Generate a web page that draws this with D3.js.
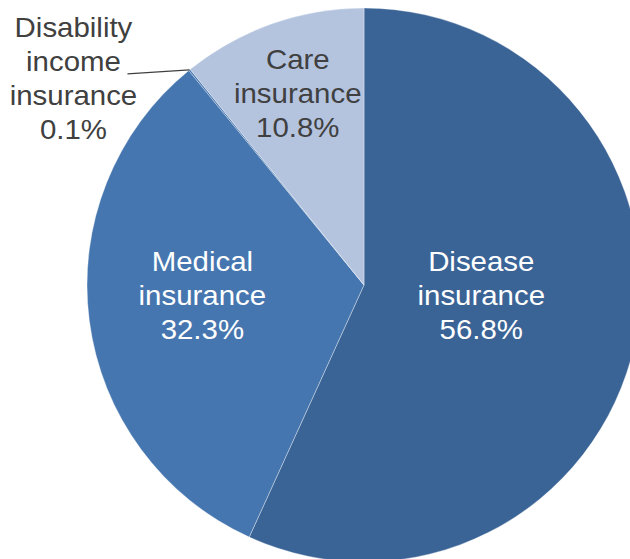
<!DOCTYPE html>
<html>
<head>
<meta charset="utf-8">
<script src="https://cdn.jsdelivr.net/npm/d3@7"></script>
<style>
  html, body { margin: 0; padding: 0; background: #ffffff; }
  svg { display: block; }
  text { font-family: "Liberation Sans", Arial, sans-serif; }
</style>
</head>
<body>
<svg id="chart" width="630" height="559"></svg>
<script>
// Share of insurance types, clockwise from 12 o'clock
const categories = ["Disease insurance", "Medical insurance", "Disability income insurance", "Care insurance"];
const labelLines = [
  ["Disease", "insurance"],
  ["Medical", "insurance"],
  ["Disability", "income", "insurance"],
  ["Care", "insurance"]
];
const shares = [56.8, 32.3, 0.1, 10.8];
const colors = ["#3b6496", "#4676af", "#4676af", "#b4c4df"];
const textColors = ["#ffffff", "#ffffff", "#404040", "#404040"];

const svg = d3.select("#chart");
const cx = 364, cy = 285, radius = 277;
const fontSize = 27, lineStep = 34, xStretch = 1.09;

const pie = d3.pie().sort(null).value(d => d.value)
  .startAngle(0).endAngle(2 * Math.PI);
const arcs = pie(categories.map((c, i) => ({ name: c, value: shares[i], i })));

const arc = d3.arc().innerRadius(0).outerRadius(radius);

const g = svg.append("g").attr("transform", `translate(${cx},${cy})`);

g.selectAll("path.slice")
  .data(arcs)
  .join("path")
  .attr("class", "slice")
  .attr("d", arc)
  .attr("fill", d => colors[d.data.i])
  .attr("stroke", "rgba(255,255,255,0.35)")
  .attr("stroke-width", 1);

// inside labels: radius along the slice bisector, plus a small vertical nudge
const insideRadius = [120, 163, null, 199];
const insideNudge = [-15, -10, 0, -4];

function drawLabel(x, y, lines, color) {
  const n = lines.length;
  const t = g.append("g").attr("transform", `translate(${x},${y}) scale(${xStretch},1)`);
  lines.forEach((s, k) => {
    t.append("text")
      .attr("x", 0)
      .attr("y", (k - (n - 1) / 2) * lineStep)
      .attr("dy", "0.35em")
      .attr("text-anchor", "middle")
      .attr("font-size", fontSize)
      .attr("fill", color)
      .text(s);
  });
}

arcs.forEach(d => {
  const i = d.data.i;
  const lines = labelLines[i].concat([d3.format(".1f")(d.data.value) + "%"]);
  if (insideRadius[i] !== null) {
    const c = d3.arc().innerRadius(insideRadius[i]).outerRadius(insideRadius[i]).centroid(d);
    drawLabel(c[0], c[1] + insideNudge[i], lines, textColors[i]);
  } else {
    // small slice: leader line out to a label on the left
    const mid = (d.startAngle + d.endAngle) / 2;
    const px = radius * Math.sin(mid), py = -radius * Math.cos(mid);
    const lx = px - 62, ly = py + 4;
    g.append("line")
      .attr("x1", px).attr("y1", py)
      .attr("x2", lx).attr("y2", ly)
      .attr("stroke", "#404040")
      .attr("stroke-width", 1.3);
    drawLabel(lx - 54, ly + 5, lines, textColors[i]);
  }
});
</script>
</body>
</html>
